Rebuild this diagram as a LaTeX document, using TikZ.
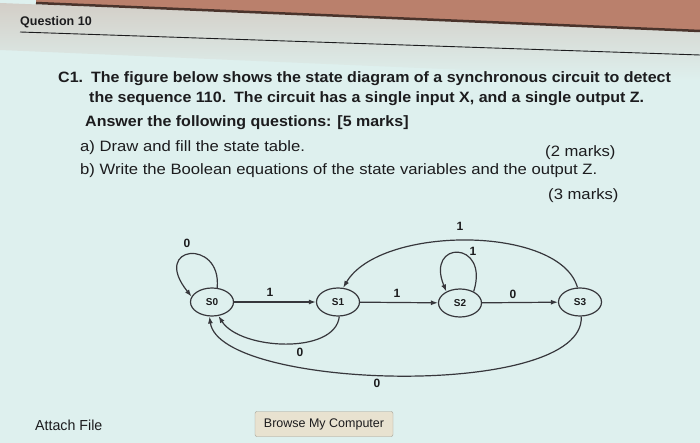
\documentclass[tikz,border=0pt]{standalone}
\usepackage{fontspec}
\setmainfont{Liberation Sans}
\usetikzlibrary{shapes.geometric,arrows.meta}
\definecolor{screen}{RGB}{222,240,238}
\definecolor{band}{RGB}{186,128,108}
\definecolor{ink}{RGB}{28,28,30}
\definecolor{wire}{RGB}{55,55,60}
\definecolor{btnfill}{RGB}{232,226,208}
\newcommand{\narrow}[2]{\scalebox{#1}[1]{#2}}

\begin{document}
\begin{tikzpicture}[x=1pt,y=-1pt,>={Latex[length=7pt,width=5pt]},
  state/.style={draw=wire,line width=1.2pt,ellipse,minimum width=43pt,minimum height=28pt,inner sep=0pt,font=\fontsize{10}{10}\selectfont\bfseries,text=ink},
  trans/.style={draw=wire,line width=1.2pt,->},
  lbl/.style={font=\fontsize{12}{12}\selectfont\bfseries,text=ink,inner sep=1pt},
  qline/.style={anchor=base west,inner sep=0pt,text=ink},
  qbold/.style={qline,font=\fontsize{15}{15}\selectfont\bfseries},
  qplain/.style={qline,font=\fontsize{15}{15}\selectfont}]
% screen and top edge
\fill[screen] (0,0) rectangle (700,443);
\useasboundingbox (0,0) rectangle (700,443);
\shade[top color=band!30!screen,bottom color=screen] (0,3) -- (700,31) -- (700,80) -- (0,50) -- cycle;
\fill[band] (36,0) -- (700,0) -- (700,31) -- (36,3) -- cycle;
\draw[line width=2.5pt,band!40!black] (36,3) -- (700,31);

% question text
\node[qline,font=\fontsize{12.5}{12.5}\selectfont\bfseries] (qtitle) at (20,26) {Question 10};
\draw[ink,line width=0.9pt] (20,32) -- (700,55);

\node[qbold] (line1) at (58,83) {\narrow{1.067}{C1.\enspace The figure below shows the state diagram of a synchronous circuit to detect}};
\node[qbold] (line2) at (89,103) {\narrow{1.067}{the sequence 110.\enspace The circuit has a single input X, and a single output Z.}};
\node[qbold] (line3) at (85,127) {\narrow{1.067}{Answer the following questions: [5 marks]}};
\node[qplain] (parta) at (80,152) {\narrow{1.11}{a) Draw and fill the state table.}};
\node[qplain] (marka) at (545,157) {\narrow{1.11}{(2 marks)}};
\node[qplain] (partb) at (80,175) {\narrow{1.11}{b) Write the Boolean equations of the state variables and the output Z.}};
\node[qplain] (markb) at (548,200) {\narrow{1.11}{(3 marks)}};

% state diagram
\node[state] (s0) at (212,302) {S0};
\node[state] (s1) at (338,302) {S1};
\node[state] (s2) at (460,303) {S2};
\node[state] (s3) at (580,302) {S3};

\draw[trans] (s0) -- (s1);
\draw[trans] (s1) -- (s2);
\draw[trans] (s2) -- (s3);
\draw[trans] (s0.70) .. controls (222,238) and (150,245) .. (s0.165);
\draw[trans] (s2.40) .. controls (490,240) and (425,240) .. (s2.140);
\draw[trans] (s3.100) .. controls (560,225) and (380,225) .. (s1.70);
\draw[trans] (s1.-85) .. controls (335,355) and (240,350) .. (s0.-65);
\draw[trans] (s3.-85) .. controls (585,400) and (220,390) .. (s0.-100);

\node[lbl] (l01) at (270,292) {1};
\node[lbl] (l12) at (397,293) {1};
\node[lbl] (l23) at (513,294) {0};
\node[lbl] (l00) at (187,243) {0};
\node[lbl] (l22) at (473,251) {1};
\node[lbl] (l31) at (460,226) {1};
\node[lbl] (l10) at (300,352) {0};
\node[lbl] (l30) at (377,383) {0};

% bottom bar
\node[qline,anchor=west,font=\fontsize{14.5}{14.5}\selectfont] (attach) at (35,425) {\narrow{0.98}{Attach File}};
\node[draw=btnfill!70!black,fill=btnfill,rounded corners=2pt,minimum width=138pt,minimum height=25pt,
  font=\fontsize{12.5}{12.5}\selectfont,text=ink] (browse) at (324,424) {\narrow{1.0}{Browse My Computer}};
\end{tikzpicture}
\end{document}
